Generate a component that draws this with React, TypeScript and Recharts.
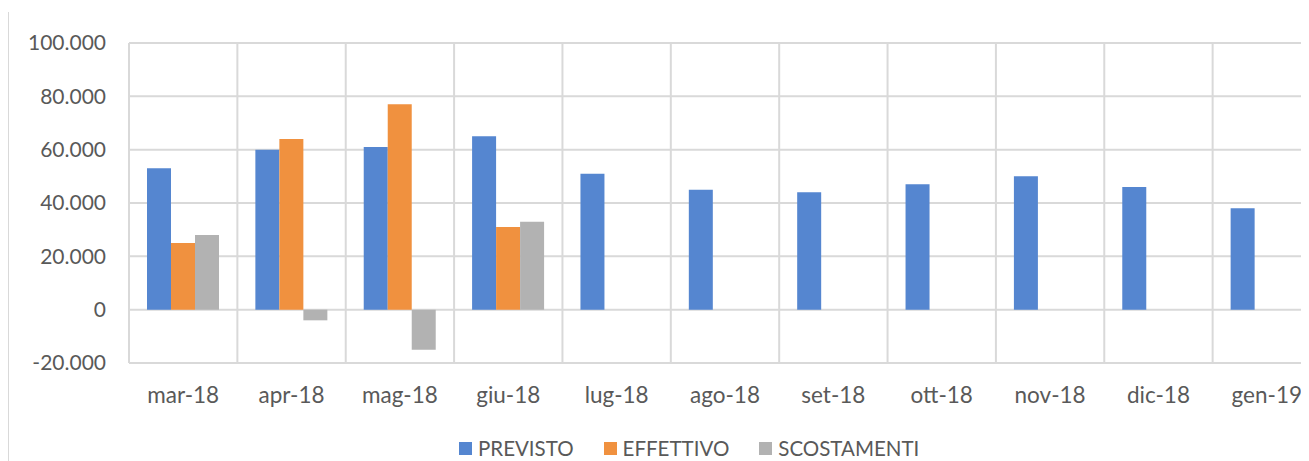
import React from "react";
import {
  BarChart,
  Bar,
  XAxis,
  YAxis,
  CartesianGrid,
  Legend,
} from "recharts";

const months = [
  "mar-18",
  "apr-18",
  "mag-18",
  "giu-18",
  "lug-18",
  "ago-18",
  "set-18",
  "ott-18",
  "nov-18",
  "dic-18",
  "gen-19",
];
const previsto = [53000, 60000, 61000, 65000, 51000, 45000, 44000, 47000, 50000, 46000, 38000];
const effettivo = [25000, 64000, 77000, 31000, null, null, null, null, null, null, null];
const scostamenti = [28000, -4000, -15000, 33000, null, null, null, null, null, null, null];
const yTicks = [-20000, 0, 20000, 40000, 60000, 80000, 100000];
const seriesOrder = ["PREVISTO", "EFFETTIVO", "SCOSTAMENTI"];

const data = months.map((m, i) => ({
  month: m,
  previsto: previsto[i],
  effettivo: effettivo[i],
  scostamenti: scostamenti[i],
}));

const FONT = "Lato, 'Open Sans', sans-serif";
const TEXT = "#595959";
const GRID = "#D9D9D9";

const fmt = (v: number) =>
  String(v).replace(/\B(?=(\d{3})+(?!\d))/g, ".");

function LegendContent(props: any) {
  const items = [...(props.payload || [])].sort(
    (a: any, b: any) => seriesOrder.indexOf(a.value) - seriesOrder.indexOf(b.value)
  );
  return (
    <div
      style={{
        display: "flex",
        paddingTop: 13,
        paddingLeft: 459,
        fontFamily: FONT,
        fontSize: 20.5,
        lineHeight: "24px",
        color: TEXT,
      }}
    >
      {items.map((it: any) => (
        <div
          key={it.value}
          style={{ display: "flex", alignItems: "center", marginRight: 30 }}
        >
          <span
            style={{
              display: "inline-block",
              width: 13,
              height: 13,
              background: it.color,
              marginRight: 6,
            }}
          />
          <span>{it.value}</span>
        </div>
      ))}
    </div>
  );
}

export default function App() {
  return (
    <div
      style={{
        position: "relative",
        width: 1309,
        height: 461,
        marginLeft: -8,
        marginTop: -8,
        overflow: "hidden",
        background: "#fff",
      }}
    >
      <div
        style={{
          position: "absolute",
          left: 7,
          top: 12,
          height: 460,
          borderLeft: `2px solid ${GRID}`,
        }}
      />
      <div style={{ position: "absolute", left: 0, top: 0 }}>
        <BarChart
          width={1321}
          height={463}
          data={data}
          margin={{ top: 43, right: 0, left: 0, bottom: 0 }}
          barGap={0}
        >
          <CartesianGrid
            stroke={GRID}
            strokeWidth={2}
            verticalCoordinatesGenerator={({ offset }: any) =>
              months
                .map((_, i) => offset.left + (i * offset.width) / months.length)
                .concat([offset.left + offset.width])
            }
          />
          <XAxis
            dataKey="month"
            axisLine={false}
            tickLine={false}
            tickMargin={18}
            height={60}
            tick={{ fontFamily: FONT, fontSize: 22.5, fill: TEXT }}
            interval={0}
          />
          <YAxis
            width={129}
            domain={[-20000, 100000]}
            ticks={yTicks}
            tickFormatter={fmt}
            axisLine={false}
            tickLine={false}
            tickMargin={17}
            tick={{ fontFamily: FONT, fontSize: 21, fill: TEXT }}
          />
          <Legend
            verticalAlign="bottom"
            content={<LegendContent />}
            wrapperStyle={{ height: 40, left: 0, width: 1321 }}
          />
          <Bar dataKey="previsto" name="PREVISTO" fill="#5586D0" barSize={24} isAnimationActive={false} />
          <Bar dataKey="effettivo" name="EFFETTIVO" fill="#F0913F" barSize={24} isAnimationActive={false} />
          <Bar dataKey="scostamenti" name="SCOSTAMENTI" fill="#B2B2B2" barSize={24} isAnimationActive={false} />
        </BarChart>
      </div>
    </div>
  );
}
